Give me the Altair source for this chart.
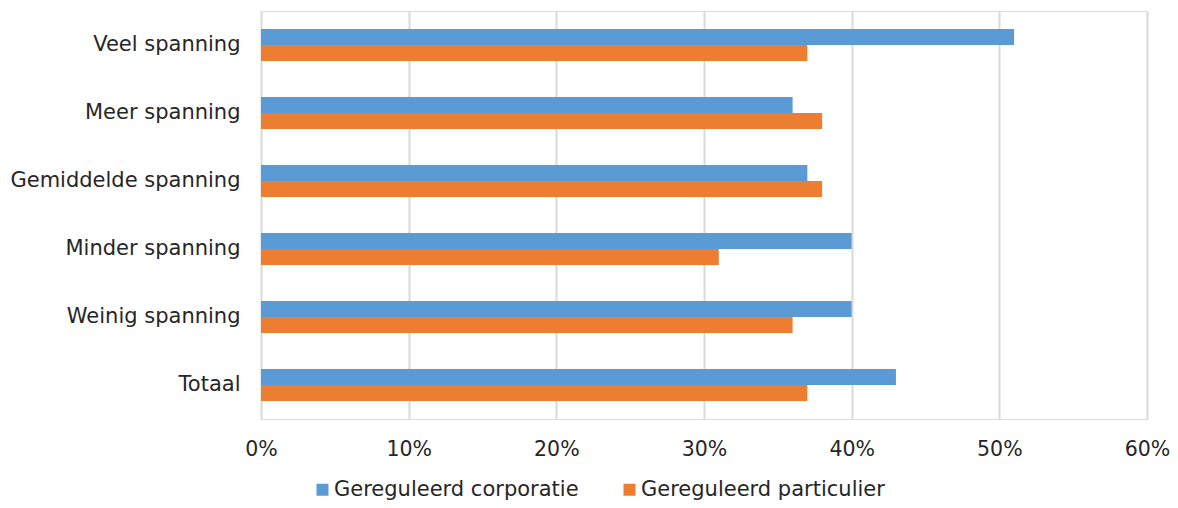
import altair as alt
import pandas as pd

categories = ["Veel spanning", "Meer spanning", "Gemiddelde spanning",
              "Minder spanning", "Weinig spanning", "Totaal"]
series = ["Gereguleerd corporatie", "Gereguleerd particulier"]
corporatie = [0.51, 0.36, 0.37, 0.40, 0.40, 0.43]
particulier = [0.37, 0.38, 0.38, 0.31, 0.36, 0.37]
x_ticks = [0, 0.1, 0.2, 0.3, 0.4, 0.5, 0.6]
colors = ["#5b9bd5", "#ed7d31"]

rows = []
for c, a, b in zip(categories, corporatie, particulier):
    rows.append({"categorie": c, "reeks": series[0], "waarde": a})
    rows.append({"categorie": c, "reeks": series[1], "waarde": b})
df = pd.DataFrame(rows)

FONT = "DejaVu Sans"
TXT = "#262626"
FS = 21

chart = alt.Chart(df).mark_bar().encode(
    y=alt.Y("categorie:N", sort=categories, title=None,
            scale=alt.Scale(paddingInner=0.53, paddingOuter=0.265),
            axis=alt.Axis(ticks=False, domain=False, labelPadding=21,
                          labelFontSize=FS, labelColor=TXT, labelFont=FONT,
                          labelLimit=400)),
    yOffset=alt.YOffset("reeks:N", sort=series),
    x=alt.X("waarde:Q", title=None,
            scale=alt.Scale(domain=[0, 0.6], nice=False),
            axis=alt.Axis(values=x_ticks, format=".0%", grid=True,
                          gridColor="#d9d9d9", gridWidth=2,
                          ticks=False, domain=False, labelPadding=20,
                          labelFlush=False,
                          labelFontSize=20.5, labelColor=TXT, labelFont=FONT)),
    color=alt.Color("reeks:N", sort=series,
                    scale=alt.Scale(domain=series, range=colors),
                    legend=alt.Legend(title=None, orient="none",
                                      direction="horizontal",
                                      legendX=51, legendY=468,
                                      symbolType="square", symbolSize=144,
                                      symbolStrokeWidth=0,
                                      labelFontSize=FS, labelColor=TXT,
                                      labelFont=FONT, labelOffset=1,
                                      columnPadding=40, padding=0,
                                      labelLimit=400)),
).properties(
    width=886, height=408,
    autosize=alt.AutoSizeParams(type="none"),
    padding={"left": 253, "top": 3, "right": 23, "bottom": 81},
).configure_view(stroke=None).configure(background="white")

chart.save("out.html", embed_options={"renderer": "svg", "actions": False})
